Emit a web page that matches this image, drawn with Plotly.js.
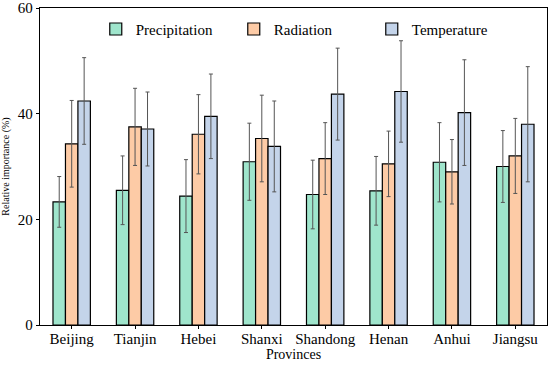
<!DOCTYPE html>
<html>
<head>
<meta charset="utf-8">
<script src="https://cdn.plot.ly/plotly-3.0.1.min.js"></script>
<style>html,body{margin:0;padding:0;background:#fff;}#chart{width:550px;height:366px;}</style>
</head>
<body>
<div id="chart"></div>
<script>
const provinces = ["Beijing","Tianjin","Hebei","Shanxi","Shandong","Henan","Anhui","Jiangsu"];
const precipitation = [23.3,25.5,24.4,30.9,24.7,25.4,30.8,30.0];
const precipitationErr = [4.8,6.5,6.9,7.3,6.5,6.5,7.5,6.8];
const radiation = [34.3,37.5,36.1,35.3,31.5,30.5,29.0,32.0];
const radiationErr = [8.2,7.3,7.5,8.2,6.8,6.2,6.1,7.1];
const temperature = [42.4,37.1,39.5,33.8,43.7,44.2,40.2,38.0];
const temperatureErr = [8.2,7.0,8.0,8.6,8.7,9.6,10.0,10.9];

function series(name, y, err, color){
  return {
    type: "bar", name: name, x: provinces, y: y,
    marker: {color: color, line: {color: "#000", width: 1.2}},
    error_y: {type: "data", array: err, visible: true, color: "#555", thickness: 1, width: 2}
  };
}
const data = [
  series("Precipitation", precipitation, precipitationErr, "#9fe5cc"),
  series("Radiation", radiation, radiationErr, "#fdcba6"),
  series("Temperature", temperature, temperatureErr, "#c4d4ea")
];
const layout = {
  width: 550, height: 366,
  margin: {l: 40, r: 3, t: 8, b: 41},
  paper_bgcolor: "#fff", plot_bgcolor: "#fff",
  font: {family: "'Liberation Serif', 'Times New Roman', serif", color: "#000", size: 15},
  barmode: "group", bargap: 0.41, bargroupgap: 0,
  showlegend: true,
  legend: {orientation: "h", x: 0.11, xanchor: "left", y: 0.985, yanchor: "top",
           font: {size: 15}, bgcolor: "rgba(0,0,0,0)", itemwidth: 30,
           entrywidth: 93, entrywidthmode: "pixels"},
  xaxis: {
    title: {text: "Provinces", font: {size: 14}, standoff: 0},
    showline: true, linecolor: "#000", linewidth: 1.2, mirror: true,
    ticks: "outside", ticklen: 3, tickcolor: "#000", showgrid: false,
    tickfont: {size: 15}, ticklabelstandoff: -3
  },
  yaxis: {
    title: {text: "Relative importance (%)", font: {size: 10}, standoff: 6},
    range: [0, 60], tickvals: [0, 20, 40, 60],
    showline: true, linecolor: "#000", linewidth: 1.2, mirror: true,
    ticks: "outside", ticklen: 3, tickcolor: "#000", showgrid: false, zeroline: false,
    tickfont: {size: 15}
  }
};
Plotly.newPlot("chart", data, layout, {displayModeBar: false, staticPlot: true});
</script>
</body>
</html>
